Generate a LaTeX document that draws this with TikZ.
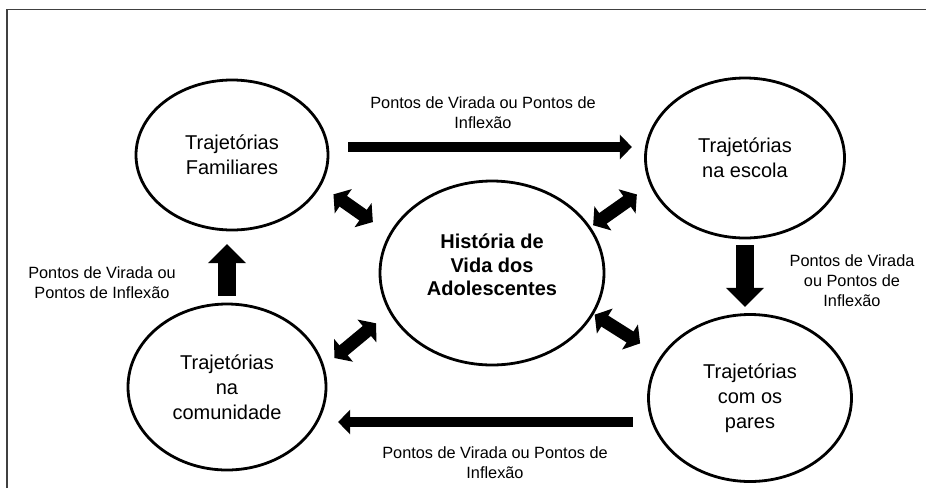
\documentclass[tikz,border=0pt]{standalone}
\usepackage{fontspec}
\setmainfont{Liberation Sans}
\usetikzlibrary{arrows.meta}
\usetikzlibrary{shapes.geometric}
\definecolor{framegray}{RGB}{64,64,64}

\tikzset{
  stage/.style={ellipse, draw, line width=2.8pt, inner sep=0pt, align=center,
    font=\fontsize{20}{25}\selectfont},
  core/.style={align=center, font=\fontsize{20}{23.5}\selectfont\bfseries},
  note/.style={align=center, inner sep=0pt, font=\fontsize{16.3}{20}\selectfont},
  flowarrow/.style={line width=10pt, -{Triangle[length=12pt,width=24pt]}},
  riseflow/.style={line width=18pt, -{Triangle[length=19pt,width=37pt]}},
  linkarrow/.style={line width=13pt,
    {Triangle[length=12pt,width=29pt]}-{Triangle[length=12pt,width=29pt]}}
}

\begin{document}
\begin{tikzpicture}[x=1pt, y=-1pt]
      \useasboundingbox (0,0) rectangle (926,488);
      \draw[framegray, line width=1.6pt] (7,488) -- (7,9.5) -- (926,9.5);

      \node[stage, minimum width=192pt, minimum height=150pt] (fam) at (232,155) {Trajetórias\\Familiares};
      \node[stage, minimum width=199pt, minimum height=160pt] (esc) at (745,158) {Trajetórias\\na escola};
      \node[stage, minimum width=224pt, minimum height=184pt,
        label={[core, yshift=8pt]center:História de\\Vida dos\\Adolescentes}] (hist) at (492,273) {};
      \node[stage, minimum width=198pt, minimum height=166pt] (com) at (227,387) {Trajetórias\\na\\comunidade};
      \node[stage, minimum width=203pt, minimum height=167pt] (par) at (750,398) {Trajetórias\\com os\\pares};

      \draw[flowarrow, shorten <=18.7pt, shorten >=12.2pt]
        ([yshift=8pt]fam.east) -- ([yshift=8pt]fam.east -| esc.west);
      \draw[flowarrow, shorten <=14.2pt, shorten >=10.7pt]
        ([yshift=-24pt]par.west) -- ([yshift=-24pt]par.west -| com.east);
      \draw[riseflow, shorten <=6.7pt, shorten >=12.7pt] (com.north) -- (com.north |- fam.south);
      \draw[riseflow, shorten <=5.7pt, shorten >=6.2pt] (esc.south) -- (esc.south |- par.north);

      \draw[linkarrow, shorten <=15pt, shorten >=20pt] (fam.-19) -- (hist.159);
      \draw[linkarrow, shorten <=3pt, shorten >=16pt] (hist.25) -- (esc.196);
      \draw[linkarrow, shorten <=13pt, shorten >=17pt] (com.12) -- (hist.201);
      \draw[linkarrow, shorten <=1pt, shorten >=24pt] (hist.-22) -- (par.155);

      \node[note] (turntop) at (483,113) {Pontos de Virada ou Pontos de\\Inflexão};
      \node[note] (turnleft) at (102,283) {Pontos de Virada ou\\Pontos de Inflexão};
      \node[note] (turnright) at (852,281) {Pontos de Virada\\ou Pontos de\\Inflexão};
      \node[note] (turnbottom) at (495,463) {Pontos de Virada ou Pontos de\\Inflexão};
\end{tikzpicture}
\end{document}
